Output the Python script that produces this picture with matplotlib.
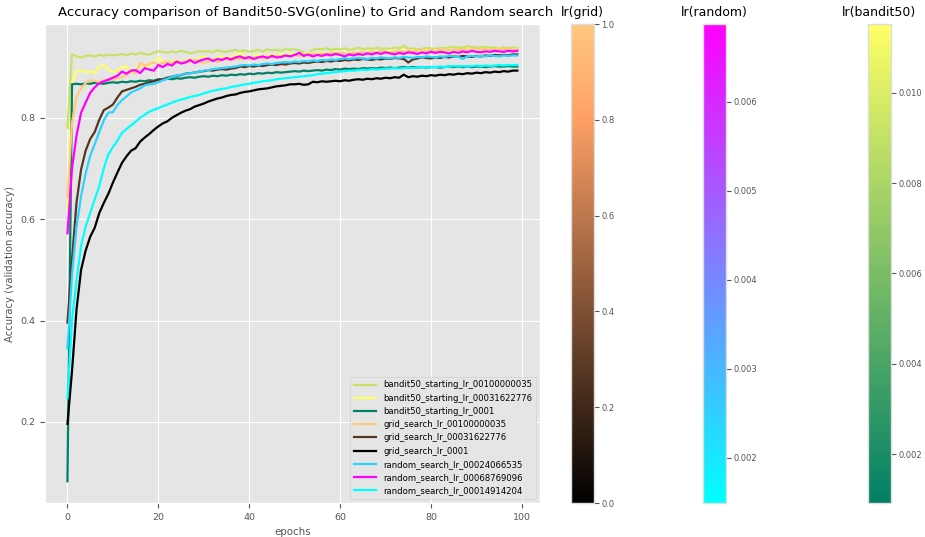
import numpy as np
import matplotlib
matplotlib.use('Agg')
import matplotlib.pyplot as plt
from matplotlib import cm
from matplotlib.colors import Normalize

plt.style.use('ggplot')

epochs = np.arange(100)

# bandit50 runs
bandit_lrs = [0.0100000035, 0.0031622776, 0.001]
bandit_001 = [0.780,
    0.926, 0.921, 0.919, 0.922, 0.923, 0.921, 0.924, 0.922, 0.925, 0.923,
    0.924, 0.926, 0.923, 0.927, 0.925, 0.928, 0.926, 0.924, 0.929, 0.931,
    0.930, 0.928, 0.931, 0.929, 0.932, 0.930, 0.927, 0.929, 0.931, 0.930,
    0.932, 0.929, 0.933, 0.931, 0.930, 0.932, 0.934, 0.931, 0.933, 0.930,
    0.932, 0.934, 0.931, 0.935, 0.933, 0.934, 0.932, 0.936, 0.934, 0.935,
    0.933, 0.929, 0.927, 0.934, 0.936, 0.935, 0.937, 0.934, 0.936, 0.935,
    0.937, 0.934, 0.936, 0.938, 0.935, 0.937, 0.936, 0.938, 0.936, 0.937,
    0.935, 0.939, 0.937, 0.942, 0.936, 0.937, 0.935, 0.936, 0.938, 0.937,
    0.936, 0.938, 0.937, 0.939, 0.940, 0.938, 0.939, 0.941, 0.940, 0.938,
    0.939, 0.940, 0.938, 0.939, 0.937, 0.939, 0.938, 0.938, 0.938]
bandit_0003 = [0.620,
    0.868, 0.891, 0.894, 0.889, 0.892, 0.888, 0.901, 0.904, 0.895, 0.890,
    0.893, 0.899, 0.902, 0.888, 0.897, 0.905, 0.900, 0.903, 0.910, 0.918,
    0.912, 0.909, 0.911, 0.914, 0.910, 0.913, 0.916, 0.912, 0.918, 0.921,
    0.917, 0.915, 0.919, 0.922, 0.918, 0.920, 0.923, 0.928, 0.921, 0.919,
    0.922, 0.924, 0.920, 0.923, 0.925, 0.922, 0.926, 0.924, 0.927, 0.925,
    0.923, 0.926, 0.928, 0.925, 0.927, 0.929, 0.926, 0.928, 0.930, 0.927,
    0.929, 0.927, 0.930, 0.928, 0.931, 0.929, 0.932, 0.930, 0.928, 0.931,
    0.933, 0.930, 0.932, 0.934, 0.931, 0.933, 0.930, 0.932, 0.934, 0.932,
    0.933, 0.931, 0.934, 0.932, 0.935, 0.933, 0.934, 0.936, 0.933, 0.935,
    0.934, 0.936, 0.934, 0.935, 0.937, 0.935, 0.936, 0.935, 0.936]
bandit_0001 = [0.083,
    0.866, 0.867, 0.866, 0.868, 0.867, 0.869, 0.868, 0.867, 0.869, 0.870,
    0.869, 0.871, 0.870, 0.872, 0.871, 0.873, 0.872, 0.874, 0.873, 0.876,
    0.875, 0.877, 0.876, 0.878, 0.877, 0.879, 0.880, 0.879, 0.881, 0.882,
    0.881, 0.883, 0.882, 0.884, 0.883, 0.885, 0.884, 0.886, 0.885, 0.887,
    0.886, 0.888, 0.887, 0.889, 0.888, 0.890, 0.889, 0.890, 0.891, 0.892,
    0.891, 0.893, 0.892, 0.893, 0.894, 0.893, 0.895, 0.894, 0.896, 0.895,
    0.897, 0.896, 0.897, 0.896, 0.898, 0.897, 0.898, 0.897, 0.899, 0.898,
    0.899, 0.898, 0.899, 0.900, 0.899, 0.900, 0.899, 0.900, 0.899, 0.900,
    0.900, 0.899, 0.900, 0.901, 0.900, 0.901, 0.900, 0.901, 0.900, 0.901,
    0.901, 0.900, 0.901, 0.902, 0.901, 0.901, 0.902, 0.901, 0.901]

# grid search runs
grid_001 = [0.644,
    0.790, 0.842, 0.858, 0.869, 0.874, 0.873, 0.870, 0.874, 0.876, 0.875,
    0.878, 0.880, 0.884, 0.892, 0.888, 0.908, 0.903, 0.906, 0.909, 0.905,
    0.908, 0.910, 0.907, 0.911, 0.909, 0.912, 0.910, 0.914, 0.912, 0.908,
    0.911, 0.913, 0.910, 0.914, 0.916, 0.913, 0.917, 0.915, 0.918, 0.916,
    0.918, 0.920, 0.917, 0.921, 0.919, 0.922, 0.920, 0.923, 0.921, 0.924,
    0.922, 0.925, 0.923, 0.926, 0.924, 0.927, 0.925, 0.928, 0.926, 0.929,
    0.927, 0.926, 0.929, 0.927, 0.930, 0.928, 0.931, 0.929, 0.932, 0.930,
    0.928, 0.931, 0.933, 0.930, 0.932, 0.931, 0.933, 0.935, 0.932, 0.934,
    0.932, 0.934, 0.936, 0.933, 0.935, 0.934, 0.936, 0.934, 0.935, 0.937,
    0.935, 0.936, 0.934, 0.936, 0.937, 0.935, 0.936, 0.935, 0.935]
grid_0003 = [0.396,
    0.520, 0.633, 0.698, 0.735, 0.758, 0.772, 0.796, 0.815, 0.820, 0.826,
    0.840, 0.852, 0.855, 0.858, 0.861, 0.865, 0.867, 0.870, 0.872, 0.875,
    0.876, 0.879, 0.881, 0.883, 0.884, 0.887, 0.888, 0.889, 0.891, 0.892,
    0.894, 0.893, 0.895, 0.896, 0.895, 0.897, 0.898, 0.901, 0.900, 0.902,
    0.901, 0.903, 0.902, 0.904, 0.905, 0.904, 0.906, 0.905, 0.907, 0.908,
    0.907, 0.909, 0.908, 0.910, 0.911, 0.910, 0.912, 0.911, 0.913, 0.912,
    0.914, 0.913, 0.915, 0.914, 0.916, 0.915, 0.914, 0.916, 0.915, 0.917,
    0.916, 0.918, 0.917, 0.916, 0.909, 0.915, 0.917, 0.919, 0.918, 0.917,
    0.919, 0.918, 0.920, 0.919, 0.921, 0.920, 0.922, 0.921, 0.920, 0.922,
    0.921, 0.923, 0.922, 0.924, 0.923, 0.924, 0.923, 0.925, 0.925]
grid_0001 = [0.196,
    0.300, 0.422, 0.500, 0.538, 0.565, 0.583, 0.612, 0.632, 0.650, 0.672,
    0.692, 0.711, 0.724, 0.735, 0.740, 0.753, 0.761, 0.768, 0.776, 0.783,
    0.789, 0.793, 0.800, 0.805, 0.810, 0.814, 0.817, 0.822, 0.825, 0.828,
    0.832, 0.835, 0.838, 0.840, 0.843, 0.845, 0.846, 0.849, 0.851, 0.852,
    0.854, 0.856, 0.857, 0.858, 0.860, 0.862, 0.863, 0.864, 0.866, 0.866,
    0.867, 0.865, 0.866, 0.871, 0.870, 0.872, 0.871, 0.872, 0.873, 0.872,
    0.874, 0.873, 0.875, 0.876, 0.875, 0.877, 0.876, 0.878, 0.877, 0.879,
    0.878, 0.880, 0.879, 0.885, 0.880, 0.882, 0.881, 0.883, 0.882, 0.884,
    0.883, 0.885, 0.884, 0.886, 0.885, 0.887, 0.886, 0.888, 0.887, 0.889,
    0.888, 0.890, 0.889, 0.891, 0.890, 0.892, 0.891, 0.893, 0.893]

# random search runs
random_lrs = [0.0024066535, 0.0068769096, 0.0014914204]
random_a = [0.345,
    0.490, 0.585, 0.645, 0.690, 0.725, 0.748, 0.772, 0.795, 0.810, 0.811,
    0.825, 0.835, 0.842, 0.850, 0.854, 0.858, 0.864, 0.866, 0.867, 0.870,
    0.874, 0.877, 0.881, 0.883, 0.885, 0.886, 0.888, 0.889, 0.891, 0.893,
    0.894, 0.896, 0.897, 0.898, 0.899, 0.900, 0.901, 0.903, 0.904, 0.903,
    0.905, 0.904, 0.906, 0.907, 0.906, 0.908, 0.909, 0.910, 0.909, 0.911,
    0.910, 0.912, 0.911, 0.913, 0.912, 0.914, 0.913, 0.915, 0.914, 0.916,
    0.917, 0.916, 0.917, 0.918, 0.917, 0.916, 0.918, 0.917, 0.919, 0.918,
    0.917, 0.919, 0.918, 0.920, 0.919, 0.918, 0.920, 0.919, 0.921, 0.920,
    0.919, 0.921, 0.920, 0.922, 0.921, 0.920, 0.916, 0.921, 0.922, 0.921,
    0.922, 0.921, 0.923, 0.922, 0.921, 0.923, 0.922, 0.923, 0.923]
random_b = [0.572,
    0.700, 0.765, 0.810, 0.830, 0.849, 0.860, 0.868, 0.872, 0.875, 0.879,
    0.883, 0.891, 0.887, 0.893, 0.894, 0.888, 0.898, 0.895, 0.893, 0.904,
    0.900, 0.906, 0.903, 0.911, 0.907, 0.909, 0.914, 0.908, 0.912, 0.915,
    0.917, 0.912, 0.916, 0.914, 0.918, 0.915, 0.919, 0.921, 0.917, 0.920,
    0.916, 0.919, 0.921, 0.918, 0.922, 0.919, 0.920, 0.923, 0.921, 0.924,
    0.928, 0.922, 0.925, 0.921, 0.924, 0.922, 0.925, 0.923, 0.926, 0.924,
    0.921, 0.925, 0.923, 0.926, 0.924, 0.927, 0.925, 0.928, 0.926, 0.929,
    0.927, 0.925, 0.928, 0.926, 0.929, 0.928, 0.926, 0.929, 0.927, 0.930,
    0.928, 0.930, 0.929, 0.927, 0.930, 0.928, 0.931, 0.929, 0.932, 0.930,
    0.929, 0.931, 0.930, 0.932, 0.931, 0.930, 0.932, 0.931, 0.932]
random_c = [0.247,
    0.400, 0.480, 0.547, 0.585, 0.612, 0.639, 0.665, 0.700, 0.728, 0.742,
    0.755, 0.770, 0.778, 0.785, 0.792, 0.800, 0.806, 0.812, 0.816, 0.819,
    0.823, 0.826, 0.830, 0.833, 0.836, 0.838, 0.841, 0.843, 0.845, 0.848,
    0.851, 0.853, 0.855, 0.857, 0.858, 0.861, 0.862, 0.864, 0.866, 0.867,
    0.869, 0.870, 0.872, 0.873, 0.874, 0.876, 0.877, 0.878, 0.879, 0.880,
    0.881, 0.882, 0.883, 0.884, 0.886, 0.887, 0.888, 0.889, 0.890, 0.891,
    0.892, 0.893, 0.893, 0.894, 0.895, 0.894, 0.896, 0.895, 0.896, 0.897,
    0.897, 0.898, 0.897, 0.898, 0.899, 0.898, 0.899, 0.900, 0.899, 0.900,
    0.900, 0.901, 0.900, 0.901, 0.902, 0.901, 0.902, 0.901, 0.902, 0.903,
    0.902, 0.903, 0.902, 0.903, 0.904, 0.903, 0.904, 0.904, 0.904]

labels = ['bandit50_starting_lr_00100000035', 'bandit50_starting_lr_00031622776',
          'bandit50_starting_lr_0001', 'grid_search_lr_00100000035',
          'grid_search_lr_00031622776', 'grid_search_lr_0001',
          'random_search_lr_00024066535', 'random_search_lr_00068769096',
          'random_search_lr_00014914204']
series = [bandit_001, bandit_0003, bandit_0001, grid_001, grid_0003, grid_0001,
          random_a, random_b, random_c]

rnd_norm = Normalize(min(random_lrs), max(random_lrs))
colors = [cm.summer(0.78), cm.summer(1.0), cm.summer(0.0),
          cm.copper(1.0), cm.copper(0.27), cm.copper(0.0)] + \
         [cm.cool(rnd_norm(v)) for v in random_lrs]

fig = plt.figure(figsize=(9.25, 5.37), dpi=100)
ax = fig.add_axes([0.0486, 0.0633, 0.535, 0.892])
for s, c, l in zip(series, colors, labels):
    ax.plot(epochs, s, color=c, lw=1.6, label=l)
ax.set_title('Accuracy comparison of Bandit50-SVG(online) to Grid and Random search',
             fontsize=9.5, x=0.526)
ax.set_xlabel('epochs', fontsize=7.4)
ax.set_ylabel('Accuracy (validation accuracy)', fontsize=7.3)
ax.tick_params(labelsize=6.8)
ax.set_yticks([0.2, 0.4, 0.6, 0.8])
ax.legend(loc='lower right', fontsize=6.1, handlelength=2.7)

# colorbars
cb_specs = [(0.617, 'copper', Normalize(0, 1), 'lr(grid)'),
            (0.760, 'cool', rnd_norm, 'lr(random)'),
            (0.938, 'summer', Normalize(0.00092, 0.01152), 'lr(bandit50)')]
for left, cmap, norm, title in cb_specs:
    cax = fig.add_axes([left, 0.0633, 0.0249, 0.892])
    sm = cm.ScalarMappable(norm=norm, cmap=cmap)
    cb = fig.colorbar(sm, cax=cax)
    cb.outline.set_edgecolor('#dddddd')
    cax.tick_params(labelsize=6.0, pad=2)
    cax.set_title(title, fontsize=9)

plt.savefig('out.png', dpi=100)
